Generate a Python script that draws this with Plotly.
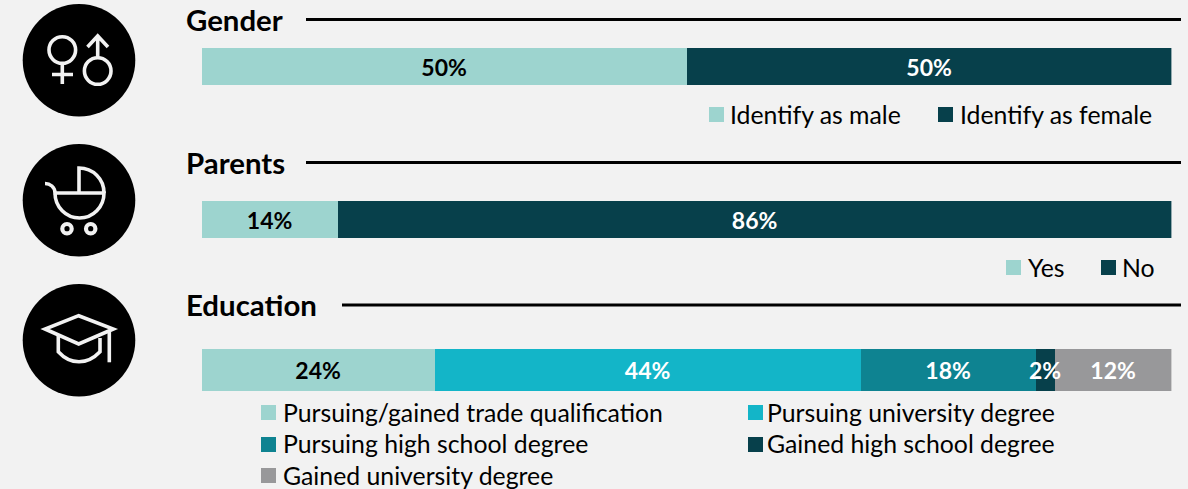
import plotly.graph_objects as go

gender_labels = ["Identify as male", "Identify as female"]
gender_values = [50, 50]
parent_labels = ["Yes", "No"]
parent_values = [14, 86]
education_labels = ["Pursuing/gained trade qualification", "Pursuing university degree",
                    "Pursuing high school degree", "Gained high school degree",
                    "Gained university degree"]
education_values = [24, 44, 18, 2, 12]
section_titles = ["Gender", "Parents", "Education"]

LIGHT, DARK, CYAN, MID, GREY = "#9DD4CF", "#07404B", "#13B5C8", "#0E8391", "#98989A"
BG = "#F2F2F2"
FONT = "Lato"
W, H = 1188, 489
NARROW = 3  # labels of segments this small overflow the bar, so they sit above the next segment

gender_colors = [LIGHT, DARK]
parent_colors = [LIGHT, DARK]
education_colors = [LIGHT, CYAN, MID, DARK, GREY]
label_colors = {LIGHT: "black"}

fig = go.Figure()
annotations = []


def add_group(labels, values, colors, yaxis):
    category = section_titles[int(yaxis[1:] or 1) - 1]
    running = 0
    for name, val, col in zip(labels, values, colors):
        pct_font = dict(family=FONT, size=23, weight="bold", color=label_colors.get(col, "white"))
        narrow = val < NARROW
        fig.add_trace(go.Bar(
            x=[val], y=[category], name=name, orientation="h",
            xaxis="x", yaxis=yaxis, marker=dict(color=col, line=dict(width=0)),
            text=None if narrow else [f"{val}%"], textposition="inside", insidetextanchor="middle",
            constraintext="none", cliponaxis=False, textangle=0, textfont=pct_font,
            showlegend=False, hovertemplate="%{fullData.name}: %{x}%<extra></extra>"))
        if narrow:
            annotations.append(dict(xref="x", yref=yaxis, x=running + val / 2, y=category,
                                    text=f"{val}%", showarrow=False, font=pct_font,
                                    xanchor="center", yanchor="middle", borderpad=0, borderwidth=0))
        running += val


add_group(gender_labels, gender_values, gender_colors, "y")
add_group(parent_labels, parent_values, parent_colors, "y2")
add_group(education_labels, education_values, education_colors, "y3")


def dom(top, bottom):
    return [1 - bottom / H, 1 - top / H]


hidden = dict(visible=False, fixedrange=True)
layout = dict(
    width=W, height=H, margin=dict(l=0, r=0, t=0, b=0), paper_bgcolor=BG, plot_bgcolor="rgba(0,0,0,0)",
    barmode="stack", bargap=0, font=dict(family=FONT, color="black"),
    xaxis=dict(domain=[201.6 / W, 1171.4 / W], range=[0, 100], anchor="y", **hidden),
    yaxis=dict(domain=dom(48, 85), anchor="x", **hidden),
    yaxis2=dict(domain=dom(201, 238), anchor="x", **hidden),
    yaxis3=dict(domain=dom(349, 391), anchor="x", **hidden),
    # 1:1 pixel overlay for rules, legends and icons
    xaxis2=dict(domain=[0, 1], range=[0, W], anchor="y4", **hidden),
    yaxis4=dict(domain=[0, 1], range=[H, 0], anchor="x2", **hidden),
)

shapes = []


def px_shape(**kw):
    shapes.append(dict(xref="x2", yref="y4", layer="above", **kw))


def text(x, y, s, size, bold=False):
    annotations.append(dict(xref="x2", yref="y4", x=x, y=y, text=s, showarrow=False,
                            xanchor="left", yanchor="middle", borderpad=0, borderwidth=0,
                            font=dict(family=FONT, size=size, color="black",
                                      weight="bold" if bold else "normal")))


for title, ty, ry, lx in zip(section_titles, [19.5, 162, 304.5], [19.5, 162.5, 305], [306, 306, 342]):
    text(186, ty, title, 29.4, True)
    px_shape(type="line", x0=lx, x1=1181, y0=ry, y1=ry, line=dict(color="black", width=3))

legend_items = [
    (709, 730, 114, gender_labels[0], gender_colors[0]),
    (938, 960, 114, gender_labels[1], gender_colors[1]),
    (1006, 1028, 267, parent_labels[0], parent_colors[0]),
    (1101, 1122, 267, parent_labels[1], parent_colors[1]),
    (261, 283, 412, education_labels[0], education_colors[0]),
    (748, 767, 412, education_labels[1], education_colors[1]),
    (261, 283, 443.5, education_labels[2], education_colors[2]),
    (748, 767, 443.5, education_labels[3], education_colors[3]),
    (261, 283, 475, education_labels[4], education_colors[4]),
]
swatch_y = {114: 114.5, 267: 267.5, 412: 412.5, 443.5: 444.5, 475: 475.5}
for sx, tx, cy, label, col in legend_items:
    sy = swatch_y[cy]
    px_shape(type="rect", x0=sx, x1=sx + 15, y0=sy - 7.5, y1=sy + 7.5, fillcolor=col, line=dict(width=0))
    text(tx, cy, label, 24.8)

# icon discs
for cy in [60.3, 200.3, 340.3]:
    px_shape(type="circle", x0=79 - 56.3, x1=79 + 56.3, y0=cy - 56.3, y1=cy + 56.3,
             fillcolor="black", line=dict(width=0))

stroke = dict(color=BG, width=3.6)


def ring(cx, cy, r, width=3.6):
    px_shape(type="circle", x0=cx - r, x1=cx + r, y0=cy - r, y1=cy + r,
             line=dict(color=BG, width=width))


def icon(path):
    px_shape(type="path", path=path, line=stroke)


# gender glyphs
ring(62.3, 50, 13.3)
icon("M62.3,64 V84 M52,74.5 H73")
ring(97.7, 71, 13.3)
icon("M97.7,57 V36 M87.5,47 L97.7,36 L108,47")
# pram
icon("M45,183.5 C50,183.5 55,187 55,193 H104 C104,207 93,218 79.5,218 C66,218 55,207 55,193")
icon("M79,193 V168 C93,168 104,179 104,193")
ring(67, 228.7, 4.7, 4.2)
ring(90.7, 228.7, 4.7, 4.2)
# mortarboard
icon("M78.7,315.7 L113.3,329 L78.7,344 L45,329 Z")
icon("M58.3,335.7 V351.7 C64,358 71,361.7 79,361.7 C87,361.7 94,358 100,351.7 V338")
icon("M109.3,330 V362.3")

layout["shapes"] = shapes
layout["annotations"] = annotations
fig.update_layout(**layout)
fig.write_html("out.html", post_script="document.body.style.margin='0';document.body.style.background='%s';" % BG,
               config=dict(displayModeBar=False))
